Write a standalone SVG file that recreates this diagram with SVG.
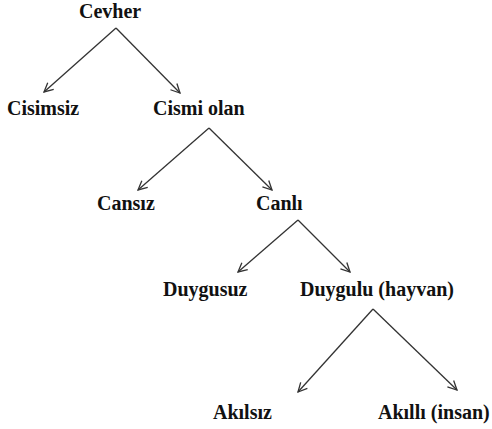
<svg xmlns="http://www.w3.org/2000/svg" width="492" height="429" viewBox="0 0 492 429">
<style>
.lbl{font-family:"Liberation Serif","Times New Roman",serif;font-weight:bold;font-size:20px;fill:#111}
.edge{stroke:#333;stroke-width:1.3;fill:none}
</style>
<defs>
<marker id="arr" viewBox="0 0 12 12" markerWidth="12" markerHeight="12" refX="11" refY="6" orient="auto" markerUnits="userSpaceOnUse">
<path d="M2,1.5 L11,6 L2,10.5" fill="none" stroke="#333" stroke-width="1.3"/>
</marker>
</defs>
<rect width="492" height="429" fill="#fff"/>
<g id="connectors">
<line class="edge" x1="116" y1="28" x2="44" y2="92" marker-end="url(#arr)"/>
<line class="edge" x1="116" y1="28" x2="180" y2="93" marker-end="url(#arr)"/>
<line class="edge" x1="209" y1="128" x2="138" y2="190" marker-end="url(#arr)"/>
<line class="edge" x1="209" y1="128" x2="272" y2="190" marker-end="url(#arr)"/>
<line class="edge" x1="298" y1="220" x2="238" y2="272" marker-end="url(#arr)"/>
<line class="edge" x1="298" y1="220" x2="350" y2="272" marker-end="url(#arr)"/>
<line class="edge" x1="373" y1="309" x2="298" y2="392" marker-end="url(#arr)"/>
<line class="edge" x1="373" y1="309" x2="457" y2="390" marker-end="url(#arr)"/>
</g>
<g id="cevher"><text class="lbl" x="79" y="18">Cevher</text></g>
<g id="cisimsiz"><text class="lbl" x="7" y="115">Cisimsiz</text></g>
<g id="cismi-olan"><text class="lbl" x="153" y="115">Cismi olan</text></g>
<g id="cansiz"><text class="lbl" x="97" y="210">Cansız</text></g>
<g id="canli"><text class="lbl" x="256" y="210">Canlı</text></g>
<g id="duygusuz"><text class="lbl" x="163" y="296">Duygusuz</text></g>
<g id="duygulu"><text class="lbl" x="300" y="296">Duygulu (hayvan)</text></g>
<g id="akilsiz"><text class="lbl" x="213" y="419">Akılsız</text></g>
<g id="akilli"><text class="lbl" x="378" y="419">Akıllı (insan)</text></g>
</svg>
